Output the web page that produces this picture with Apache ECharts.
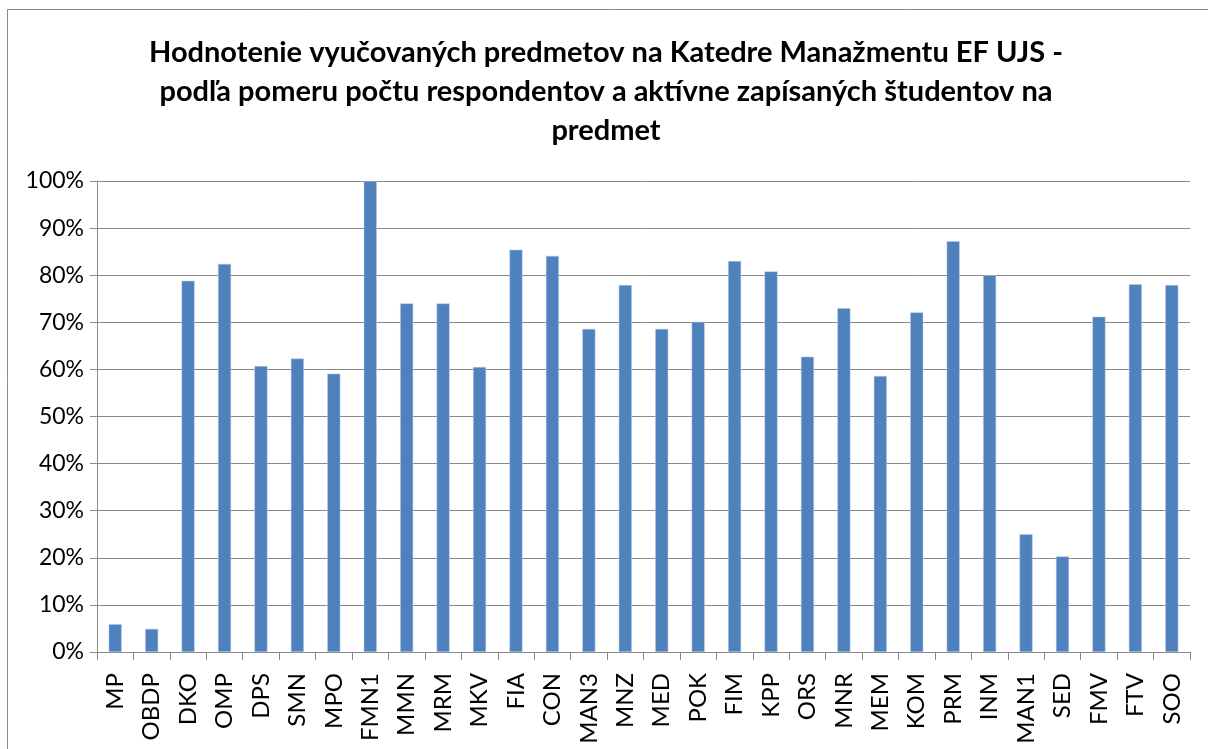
<!DOCTYPE html>
<html>
<head>
<meta charset="utf-8">
<script src="https://cdn.jsdelivr.net/npm/echarts@6/dist/echarts.min.js"></script>
<style>
  html, body { margin: 0; padding: 0; background: #fff; }
  #chart { width: 1208px; height: 749px; }
</style>
</head>
<body>
<div id="chart"></div>
<script>
// predmety
const categories = ['MP', 'OBDP', 'DKO', 'OMP', 'DPS', 'SMN', 'MPO', 'FMN1', 'MMN', 'MRM', 'MKV',
  'FIA', 'CON', 'MAN3', 'MNZ', 'MED', 'POK', 'FIM', 'KPP', 'ORS', 'MNR', 'MEM', 'KOM', 'PRM',
  'INM', 'MAN1', 'SED', 'FMV', 'FTV', 'SOO']
// pomer respondentov / zapisanych studentov (v %)
const ratio = [5.9, 4.9, 78.8, 82.4, 60.7, 62.3, 59.1, 100, 74.0, 74.0, 60.5,
  85.4, 84.1, 68.6, 77.9, 68.6, 70.1, 83.0, 80.8, 62.7, 73.0, 58.6, 72.1, 87.2,
  80.0, 25.0, 20.3, 71.2, 78.1, 77.9]
const yTicks = [0, 10, 20, 30, 40, 50, 60, 70, 80, 90, 100]

const titleText = 'Hodnotenie vyučovaných predmetov na Katedre Manažmentu EF UJS -\n' +
  'podľa pomeru počtu respondentov a aktívne zapísaných študentov na\n' +
  'predmet'

const font = 'Lato, "Open Sans", sans-serif'
const gray = '#8a8a8a'

let chart = echarts.init(document.getElementById('chart'))
chart.setOption({
  animation: false,
  // ramcek okolo grafu
  graphic: [{
    type: 'rect',
    shape: { x: 7.5, y: 9.5, width: 1220, height: 800 },
    style: { fill: 'none', stroke: gray, lineWidth: 1 }
  }],
  title: {
    text: titleText,
    left: 601,
    top: 28,
    textAlign: 'center',
    textStyle: {
      fontFamily: font,
      fontWeight: 'bold',
      fontSize: 29,
      lineHeight: 39,
      color: '#000'
    }
  },
  grid: { left: 97, right: 18, top: 181, bottom: 97 },
  xAxis: {
    type: 'category',
    data: categories,
    axisLine: { lineStyle: { color: gray, width: 1 } },
    axisTick: { show: true, length: 8, lineStyle: { color: gray } },
    axisLabel: {
      rotate: 90,
      interval: 0,
      margin: 21,
      fontFamily: font,
      fontSize: 24,
      color: '#000'
    }
  },
  yAxis: {
    type: 'value',
    min: yTicks[0],
    max: yTicks[yTicks.length - 1],
    interval: 10,
    axisLine: { show: true, lineStyle: { color: gray, width: 1 } },
    axisTick: { show: true, length: 7, lineStyle: { color: gray } },
    splitLine: { lineStyle: { color: gray, width: 1 } },
    axisLabel: {
      margin: 13,
      formatter: '{value}%',
      fontFamily: font,
      fontSize: 23,
      color: '#000'
    }
  },
  series: [{
    type: 'bar',
    data: ratio,
    barWidth: 13,
    itemStyle: { color: '#4f81bd', borderColor: '#b9cde5', borderWidth: 0.5 }
  }]
})
</script>
</body>
</html>
